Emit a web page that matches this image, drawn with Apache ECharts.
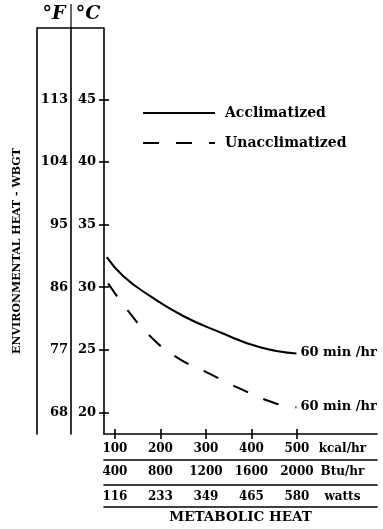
<!DOCTYPE html>
<html>
<head>
<meta charset="utf-8">
<script src="https://cdn.jsdelivr.net/npm/echarts@6/dist/echarts.min.js"></script>
<style>
  html, body { margin: 0; padding: 0; background: #fff; }
  #chart { width: 383px; height: 529px; }
</style>
</head>
<body>
<div id="chart"></div>
<script>
// metabolic heat scales (kcal/hr drives the axis, the others are read-outs)
const kcalTicks = [100, 200, 300, 400, 500];
const btuLabels = [400, 800, 1200, 1600, 2000];
const wattLabels = [116, 233, 349, 465, 580];
const unitLabels = ['kcal/hr', 'Btu/hr', 'watts'];
const unitColumn = 600;

// WBGT scales
const celsiusTicks = [20, 25, 30, 35, 40, 45];
const fahrenheitLabels = [68, 77, 86, 95, 104, 113];

// curves: [kcal/hr, °C]
const acclimatized = [[82, 32.4], [118, 30.9], [177, 29.3], [250, 27.7], [331, 26.4], [419, 25.2], [499, 24.7]];
const unacclimatized = [[85, 30.3], [129, 28.1], [177, 26.1], [236, 24.4], [302, 23.2], [375, 21.9], [455, 20.7], [499, 20.4]];
const endText = '60 min /hr';

const FONT = 'DejaVu Serif';
const X_MIN = 76, X_MAX = 676;
const Y_MIN = 18.28, Y_MAX = 50.69;

function labelText(list) {
  return function (v) {
    if (v === unitColumn) return list.unit;
    const i = kcalTicks.indexOf(v);
    return i < 0 ? '' : String(list.vals[i]);
  };
}

function xAx(offset, extra) {
  return Object.assign({
    type: 'value', min: X_MIN, max: X_MAX, position: 'bottom', offset: offset,
    splitLine: {show: false},
    axisLine: {onZero: false, lineStyle: {color: '#000', width: 1.6}},
    axisTick: {show: false},
    axisLabel: {show: false}
  }, extra);
}

function yAx(offset, extra) {
  return Object.assign({
    type: 'value', min: Y_MIN, max: Y_MAX, position: 'left', offset: offset,
    splitLine: {show: false},
    axisLine: {onZero: false, lineStyle: {color: '#000', width: 1.6}},
    axisTick: {show: false},
    axisLabel: {show: false}
  }, extra);
}

const xLabelStyle = {
  show: true, color: '#000', fontFamily: FONT, fontWeight: 'bold', fontSize: 12,
  customValues: kcalTicks.concat([unitColumn])
};

const endLabel = {
  show: true, formatter: endText, distance: 4, offset: [0, -1], color: '#000',
  fontFamily: FONT, fontWeight: 'bold', fontSize: 13
};

const chart = echarts.init(document.getElementById('chart'));
chart.setOption({
  backgroundColor: '#fff',
  animation: false,
  grid: {left: 104, top: 28, right: 6, bottom: 92, containLabel: false},
  xAxis: [
    xAx(0, {
      axisTick: {show: true, length: 5, customValues: kcalTicks, lineStyle: {color: '#000', width: 1.6}},
      axisLabel: Object.assign({}, xLabelStyle, {margin: 9, formatter: labelText({vals: kcalTicks, unit: unitLabels[0]})})
    }),
    xAx(0, {
      axisLine: {show: false},
      axisTick: {show: true, inside: true, length: 5, customValues: kcalTicks, lineStyle: {color: '#000', width: 1.6}}
    }),
    xAx(26, {
      axisLabel: Object.assign({}, xLabelStyle, {margin: 6, formatter: labelText({vals: btuLabels, unit: unitLabels[1]})})
    }),
    xAx(51, {
      axisLabel: Object.assign({}, xLabelStyle, {margin: 6, formatter: labelText({vals: wattLabels, unit: unitLabels[2]})})
    }),
    xAx(73, {
      name: 'METABOLIC HEAT', nameLocation: 'middle', nameGap: 3,
      nameTextStyle: {color: '#000', fontFamily: FONT, fontWeight: 'bold', fontSize: 13.5}
    })
  ],
  yAxis: [
    yAx(0, {
      axisTick: {show: true, length: 5, customValues: celsiusTicks, lineStyle: {color: '#000', width: 1.6}},
      axisLabel: {show: true, margin: 8, customValues: celsiusTicks, color: '#000',
        fontFamily: FONT, fontWeight: 'bold', fontSize: 13}
    }),
    yAx(0, {
      axisLine: {show: false},
      axisTick: {show: true, inside: true, length: 5, customValues: celsiusTicks, lineStyle: {color: '#000', width: 1.6}}
    }),
    yAx(33, {
      axisLabel: {show: true, margin: 3, customValues: celsiusTicks, color: '#000',
        fontFamily: FONT, fontWeight: 'bold', fontSize: 13,
        formatter: v => String(fahrenheitLabels[celsiusTicks.indexOf(v)])}
    }),
    yAx(67, {
      name: 'ENVIRONMENTAL HEAT - WBGT', nameLocation: 'middle', nameGap: 14, nameRotate: 90,
      nameTextStyle: {color: '#000', fontFamily: FONT, fontWeight: 'bold', fontSize: 11, padding: [0, 40, 0, 0]}
    })
  ],
  legend: {
    orient: 'vertical', left: 137, top: 101, itemWidth: 72, itemHeight: 14, itemGap: 16,
    data: ['Acclimatized', 'Unacclimatized'],
    itemStyle: {opacity: 0},
    textStyle: {color: '#000', fontFamily: FONT, fontWeight: 'bold', fontSize: 14, padding: [0, 0, 0, 5]}
  },
  graphic: [
    {type: 'line', shape: {x1: 37, y1: 28, x2: 104, y2: 28}, style: {stroke: '#000', lineWidth: 1.6}},
    {type: 'line', shape: {x1: 71, y1: 4, x2: 71, y2: 28}, style: {stroke: '#000', lineWidth: 1.2}},
    {type: 'text', x: 54, y: 14, style: {text: '°F', align: 'center', verticalAlign: 'middle',
      font: 'italic bold 19px "DejaVu Serif"', fill: '#000'}},
    {type: 'text', x: 88, y: 14, style: {text: '°C', align: 'center', verticalAlign: 'middle',
      font: 'italic bold 19px "DejaVu Serif"', fill: '#000'}}
  ],
  series: [
    {
      name: 'Acclimatized', type: 'line', data: acclimatized, smooth: 0.5, symbol: 'none',
      lineStyle: {color: '#000', width: 2},
      itemStyle: {color: '#000'},
      endLabel: endLabel
    },
    {
      name: 'Unacclimatized', type: 'line', data: unacclimatized, smooth: 0.5, symbol: 'none',
      lineStyle: {color: '#000', width: 2, type: [16, 17]},
      itemStyle: {color: '#000'},
      endLabel: endLabel
    }
  ]
});
</script>
</body>
</html>
